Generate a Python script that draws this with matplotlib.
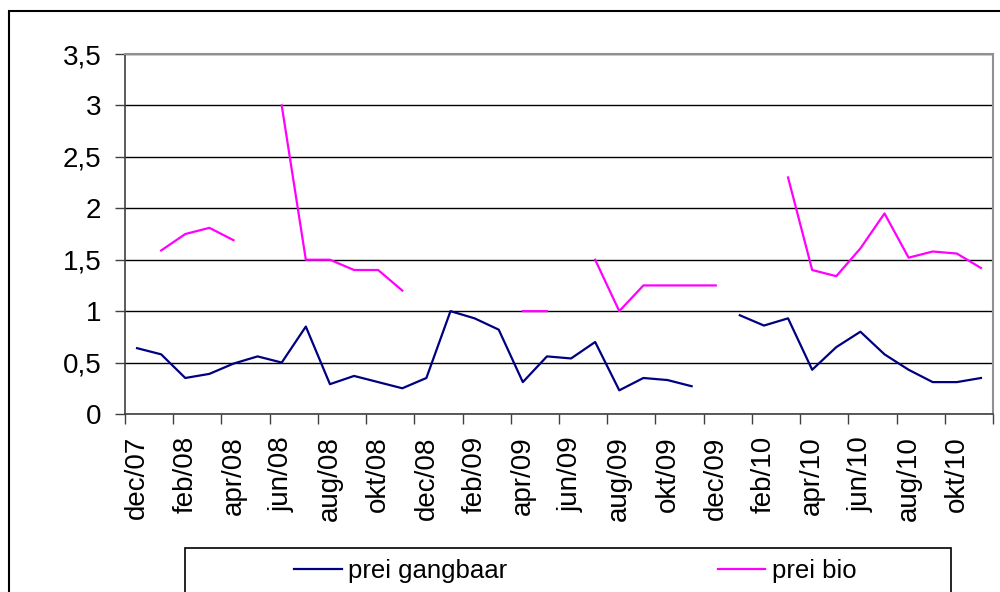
import matplotlib
matplotlib.use("Agg")
import numpy as np
import matplotlib.pyplot as plt
from matplotlib.patches import Rectangle

plt.rcParams['font.family'] = ['Liberation Sans', 'DejaVu Sans']

# monthly categories dec/07 .. nov/10
months = ['dec/07', 'jan/08', 'feb/08', 'mrt/08', 'apr/08', 'mei/08', 'jun/08', 'jul/08',
          'aug/08', 'sep/08', 'okt/08', 'nov/08', 'dec/08', 'jan/09', 'feb/09', 'mrt/09',
          'apr/09', 'mei/09', 'jun/09', 'jul/09', 'aug/09', 'sep/09', 'okt/09', 'nov/09',
          'dec/09', 'jan/10', 'feb/10', 'mrt/10', 'apr/10', 'mei/10', 'jun/10', 'jul/10',
          'aug/10', 'sep/10', 'okt/10', 'nov/10']

nan = np.nan
prei_gangbaar = [0.64, 0.58, 0.35, 0.39, 0.49, 0.56, 0.50, 0.85, 0.29, 0.37, 0.31, 0.25,
                 0.35, 1.00, 0.93, 0.82, 0.31, 0.56, 0.54, 0.70, 0.23, 0.35, 0.33, 0.27,
                 nan, 0.96, 0.86, 0.93, 0.43, 0.65, 0.80, 0.58, 0.43, 0.31, 0.31, 0.35]
prei_bio = [nan, 1.59, 1.75, 1.81, 1.69, nan, 3.00, 1.50, 1.50, 1.40, 1.40, 1.20,
            nan, nan, nan, nan, 1.00, 1.00, nan, 1.50, 1.00, 1.25, 1.25, 1.25,
            1.25, nan, nan, 2.30, 1.40, 1.34, 1.61, 1.95, 1.52, 1.58, 1.56, 1.42]

yticks = [0, 0.5, 1, 1.5, 2, 2.5, 3, 3.5]
ytick_labels = ['0', '0,5', '1', '1,5', '2', '2,5', '3', '3,5']

fig = plt.figure(figsize=(10, 5.92), dpi=100)
ax = fig.add_axes([0.125, 0.3007, 0.868, 0.608])

x = np.arange(len(months))
ax.plot(x, prei_gangbaar, color='#000080', lw=1.6, label='prei gangbaar', zorder=3)
ax.plot(x, prei_bio, color='#FF00FF', lw=1.6, label='prei bio', zorder=3)

ax.set_xlim(-0.5, len(months) - 0.5)
ax.set_ylim(0, 3.5)

ax.set_yticks(yticks)
ax.set_yticklabels(ytick_labels, fontsize=20)
ax.yaxis.grid(True, color='black', lw=1.0)
ax.set_axisbelow(True)

# tick marks between categories, labels on every second month
ax.set_xticks(np.arange(-0.5, len(months), 2))
ax.set_xticklabels([])
ax.set_xticks(x[::2], minor=True)
ax.set_xticklabels(months[::2], minor=True, rotation=90, fontsize=20, va='top')
ax.tick_params(axis='x', which='minor', length=0, pad=16)
ax.tick_params(axis='x', which='major', length=7, width=1, color='#404040', direction='out')
ax.tick_params(axis='y', length=7, width=1, color='#404040', direction='out', pad=10)

for side in ['top', 'right']:
    ax.spines[side].set_color('#909090')
    ax.spines[side].set_linewidth(1.5)
for side in ['left', 'bottom']:
    ax.spines[side].set_color('#404040')
    ax.spines[side].set_linewidth(1.2)

# outer chart frame (runs off the right and bottom edges)
fig.patches.append(Rectangle((0.009, -0.2), 1.2, 1.2 - 11 / 592, transform=fig.transFigure,
                             fill=False, edgecolor='black', lw=1.5))
# legend frame
fig.patches.append(Rectangle((0.185, -0.2), 0.766, 0.2 + 1 - 548 / 592, transform=fig.transFigure,
                             fill=False, edgecolor='black', lw=1.2))

fig.legend(loc='center left', bbox_to_anchor=(0.294, 1 - 571 / 592), ncol=2, frameon=False,
           fontsize=18.5, handlelength=1.85, handletextpad=0.25, columnspacing=8.2,
           borderpad=0, borderaxespad=0)

fig.savefig('out.png', dpi=100)
